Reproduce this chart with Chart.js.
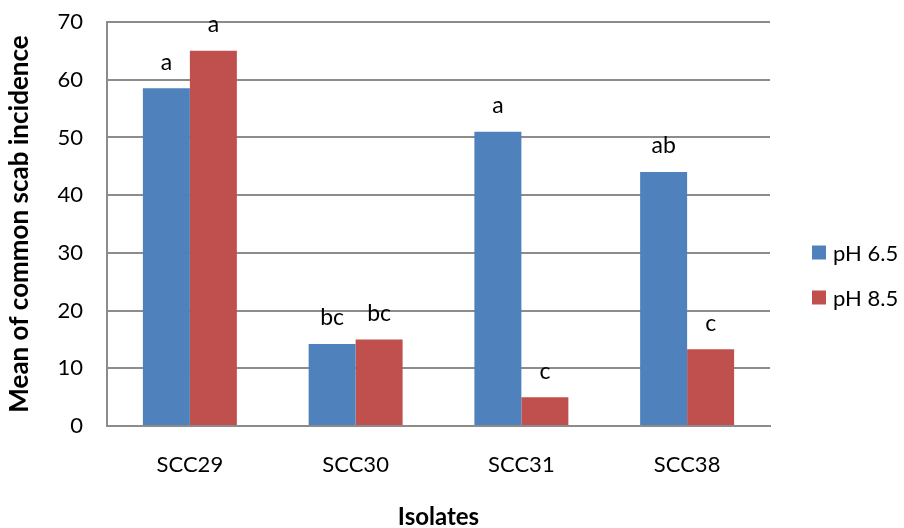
<!DOCTYPE html>
<html lang="en">

<head>
    <meta charset="UTF-8">
    <title>Common scab incidence</title>
    <script src="https://cdn.jsdelivr.net/npm/chart.js"></script>
    <style>
        html,
        body {
            margin: 0;
            padding: 0;
            background: #ffffff;
        }

        #wrap {
            width: 904px;
            height: 528px;
        }
    </style>
</head>

<body>
    <div id="wrap">
        <canvas id="scabChart" width="904" height="528"></canvas>
    </div>

    <script>
        // data
        const isolates = ['SCC29', 'SCC30', 'SCC31', 'SCC38'];
        const ph65 = [58.5, 14.2, 51, 44];
        const ph85 = [65, 15, 5, 13.3];
        const letters65 = ['a', 'bc', 'a', 'ab'];
        const letters85 = ['a', 'bc', 'c', 'c'];
        const yTicks = [0, 10, 20, 30, 40, 50, 60, 70];

        const fontName = 'Lato, "Open Sans", sans-serif';

        // letters above each bar + the legend on the right
        const letterPlugin = {
            id: 'letters',
            afterDatasetsDraw(chart) {
                const ctx = chart.ctx;
                ctx.save();
                ctx.fillStyle = '#000';
                ctx.font = '23px ' + fontName;
                ctx.textAlign = 'center';
                ctx.textBaseline = 'middle';
                chart.data.datasets.forEach((ds, i) => {
                    const meta = chart.getDatasetMeta(i);
                    meta.data.forEach((bar, j) => {
                        ctx.fillText(ds.letters[j], bar.x, bar.y - 26);
                    });
                });

                // legend
                const area = chart.chartArea;
                const mid = (area.top + chart.height) / 2;
                ctx.font = '22px ' + fontName;
                ctx.textAlign = 'left';
                chart.data.datasets.forEach((ds, i) => {
                    const y = mid + (i - 0.5) * 45;
                    ctx.fillStyle = ds.backgroundColor;
                    ctx.fillRect(area.right + 42, y - 7, 14, 14);
                    ctx.fillStyle = '#000';
                    ctx.fillText(ds.label, area.right + 63, y + 1);
                });
                ctx.restore();
            }
        };

        const ctx = document.getElementById('scabChart').getContext('2d');
        const scabChart = new Chart(ctx, {
            type: 'bar',
            data: {
                labels: isolates,
                datasets: [{
                    label: 'pH 6.5',
                    data: ph65,
                    letters: letters65,
                    backgroundColor: '#4f81bd'
                }, {
                    label: 'pH 8.5',
                    data: ph85,
                    letters: letters85,
                    backgroundColor: '#c0504d'
                }]
            },
            options: {
                responsive: false,
                animation: false,
                layout: {
                    padding: { left: 0, top: 22, right: 134, bottom: 0 }
                },
                datasets: {
                    bar: {
                        categoryPercentage: 0.567,
                        barPercentage: 1.0
                    }
                },
                plugins: {
                    legend: { display: false },
                    tooltip: { enabled: false }
                },
                scales: {
                    x: {
                        afterFit(axis) {
                            axis.height = 102;
                        },
                        grid: { display: false, drawTicks: false },
                        border: { color: '#8c8c8c', width: 2 },
                        ticks: {
                            font: { family: fontName, size: 22 },
                            color: '#000',
                            padding: 26
                        },
                        title: {
                            display: true,
                            text: 'Isolates',
                            font: { family: fontName, size: 24, weight: 'bold', lineHeight: 0.9 },
                            color: '#000',
                            padding: { top: 0, bottom: 0 }
                        }
                    },
                    y: {
                        min: 0,
                        max: 70,
                        afterBuildTicks(axis) {
                            axis.ticks = yTicks.map(v => ({ value: v }));
                        },
                        afterFit(axis) {
                            axis.width = 107;
                            axis.paddingTop = 0;
                            axis.paddingBottom = 0;
                        },
                        grid: { color: '#8c8c8c', lineWidth: 2, drawTicks: false },
                        border: { color: '#8c8c8c', width: 2 },
                        ticks: {
                            font: { family: fontName, size: 22 },
                            color: '#000',
                            padding: 24
                        },
                        title: {
                            display: true,
                            text: 'Mean of common scab incidence',
                            font: { family: fontName, size: 26, weight: 'bold' },
                            color: '#000',
                            padding: { top: 4, bottom: 0 }
                        }
                    }
                }
            },
            plugins: [letterPlugin]
        });
    </script>
</body>

</html>
